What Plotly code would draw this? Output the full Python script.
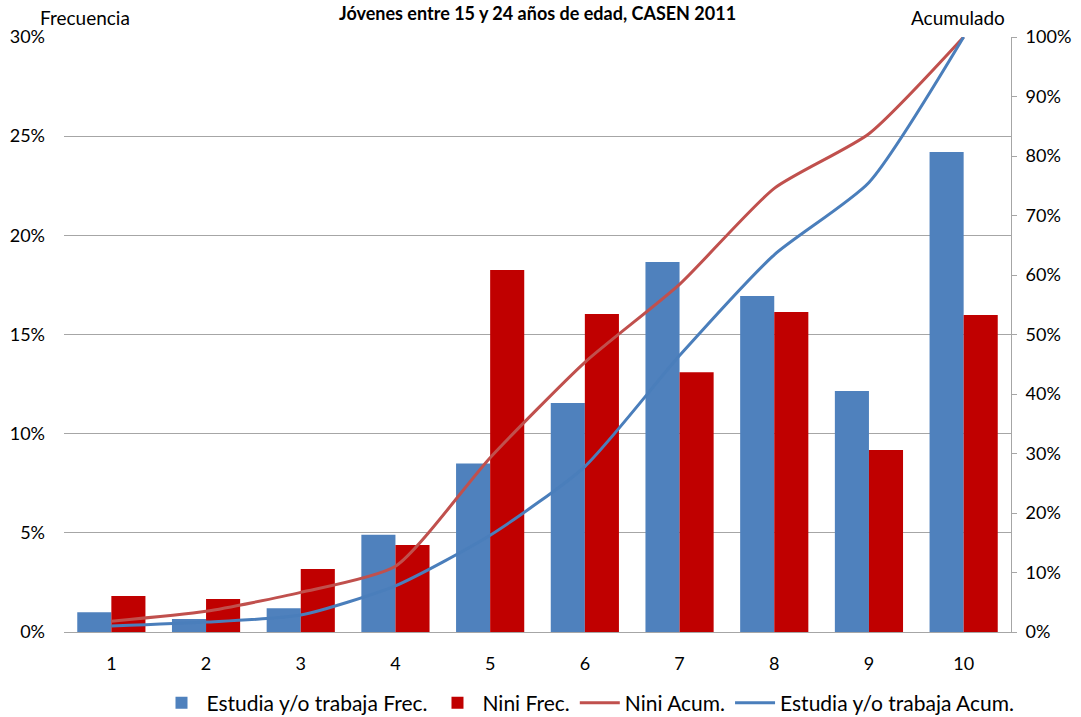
import plotly.graph_objects as go

categories = [1, 2, 3, 4, 5, 6, 7, 8, 9, 10]
estudia_frec = [1.0, 0.66, 1.2, 4.9, 8.5, 11.55, 18.65, 16.94, 12.15, 24.2]
nini_frec = [1.82, 1.66, 3.18, 4.39, 18.25, 16.03, 13.1, 16.13, 9.18, 15.98]
nini_acum = [1.82, 3.48, 6.66, 11.05, 29.3, 45.33, 58.43, 74.56, 83.74, 100.0]
estudia_acum = [1.0, 1.66, 2.86, 7.76, 16.26, 27.81, 46.46, 63.4, 75.55, 100.0]

FONT = "Lato"
BLUE_BAR = "#4F81BD"
RED_BAR = "#C00000"
RED_LINE = "#C0504D"
BLUE_LINE = "#4A7EBB"
GRID = "#A6A6A6"

fig = go.Figure()
fig.add_trace(go.Bar(x=categories, y=[v / 100 for v in estudia_frec], name="Estudia y/o trabaja Frec.",
                     marker=dict(color=BLUE_BAR, line=dict(width=0)), yaxis="y"))
fig.add_trace(go.Bar(x=categories, y=[v / 100 for v in nini_frec], name="Nini Frec.",
                     marker=dict(color=RED_BAR, line=dict(width=0)), yaxis="y"))
fig.add_trace(go.Scatter(x=categories, y=[v / 100 for v in nini_acum], name="Nini Acum.", mode="lines",
                         line=dict(color=RED_LINE, width=3, shape="spline", smoothing=0.6), yaxis="y2"))
fig.add_trace(go.Scatter(x=categories, y=[v / 100 for v in estudia_acum], name="Estudia y/o trabaja Acum.", mode="lines",
                         line=dict(color=BLUE_LINE, width=3, shape="spline", smoothing=0.6), yaxis="y2"))

fig.update_layout(
    width=1081, height=717,
    margin=dict(l=64, r=70, t=37, b=85, autoexpand=False),
    paper_bgcolor="white", plot_bgcolor="white",
    font=dict(family=FONT, size=18, color="#000000"),
    barmode="group", bargap=0.28, bargroupgap=0,
    showlegend=True,
    legend=dict(orientation="h", x=588 / 1081, xref="container", xanchor="center",
                y=(717 - 703) / 717, yref="container", yanchor="middle",
                font=dict(size=21, family=FONT), traceorder="normal", itemwidth=40,
                bgcolor="rgba(0,0,0,0)"),
    xaxis=dict(range=[0.5, 10.5], tickmode="array", tickvals=categories, ticktext=[str(c) for c in categories],
               showline=True, linecolor=GRID, linewidth=1, showgrid=False, ticks="", zeroline=False,
               ticklabelstandoff=15, tickfont=dict(size=18), automargin=False),
    yaxis=dict(range=[0, 0.3], dtick=0.05, tickformat=".0%", showgrid=True, gridcolor=GRID, gridwidth=1,
               zeroline=False, showline=False, ticks="", ticklabelstandoff=18, tickfont=dict(size=18),
               automargin=False),
    yaxis2=dict(range=[0, 1.0], dtick=0.1, tickformat=".0%", overlaying="y", side="right", showgrid=False,
                zeroline=False, showline=True, linecolor=GRID, linewidth=1, ticks="outside", ticklen=5,
                tickcolor=GRID, ticklabelstandoff=5, tickfont=dict(size=18), automargin=False),
    annotations=[
        dict(text="<b>Jóvenes entre 15 y 24 años de edad, CASEN 2011</b>", x=0.5, xref="paper",
             y=1.041, yref="paper", xanchor="center", yanchor="middle", showarrow=False,
             font=dict(size=18, family=FONT)),
        dict(text="Frecuencia", x=(85 - 64) / 947, xref="paper", y=1.032, yref="paper", xanchor="center",
             yanchor="middle", showarrow=False, font=dict(size=19, family=FONT)),
        dict(text="Acumulado", x=(958 - 64) / 947, xref="paper", y=1.032, yref="paper", xanchor="center",
             yanchor="middle", showarrow=False, font=dict(size=19, family=FONT)),
    ],
)

fig.write_html("out.html")
